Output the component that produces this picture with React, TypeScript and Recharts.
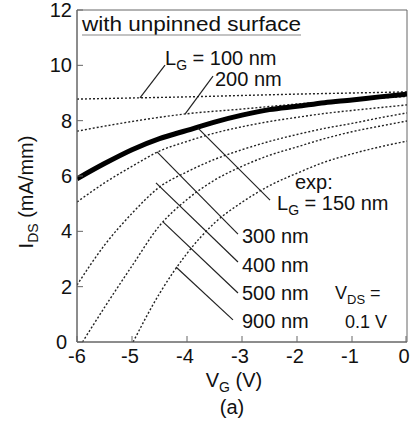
import { LineChart, Line, XAxis, YAxis, ReferenceLine, ReferenceArea } from 'recharts'

// ==================== Data ====================

const X_TICKS = [-6, -5, -4, -3, -2, -1, 0]
const Y_TICKS = [0, 2, 4, 6, 8, 10, 12]

// simulated curves, V_G (V) vs I_DS (mA/mm)
const LG100_V = [-6, -5, -4, -3, -2, -1, 0]
const LG100_I = [8.78, 8.82, 8.86, 8.91, 8.96, 9.0, 9.04]

const LG200_V = [-6, -5, -4, -3, -2, -1, 0]
const LG200_I = [7.62, 7.97, 8.25, 8.42, 8.6, 8.75, 8.88]

const LG300_V = [-6, -5.5, -5, -4.5, -4, -3.5, -3, -2.5, -2, -1.5, -1, -0.5, 0]
const LG300_I = [5.06, 5.75, 6.35, 6.9, 7.25, 7.55, 7.78, 7.97, 8.12, 8.26, 8.37, 8.47, 8.57]

const LG400_V = [-6, -5.5, -5, -4.5, -4, -3.5, -3, -2.5, -2, -1.5, -1, -0.5, 0]
const LG400_I = [2.06, 3.5, 4.65, 5.6, 6.15, 6.6, 6.95, 7.25, 7.5, 7.72, 7.9, 8.1, 8.28]

const LG500_V = [-5.9, -5.5, -5, -4.5, -4, -3.5, -3, -2.5, -2, -1.5, -1, -0.5, 0]
const LG500_I = [0, 1.25, 2.75, 4.2, 5.15, 5.85, 6.35, 6.75, 7.05, 7.35, 7.6, 7.8, 7.99]

const LG900_V = [-4.98, -4.5, -4, -3.5, -3, -2.5, -2, -1.5, -1, -0.5, 0]
const LG900_I = [0, 1.75, 3.2, 4.3, 5.05, 5.65, 6.1, 6.5, 6.8, 7.05, 7.26]

// measured, L_G = 150 nm
const EXP_V = [-6, -5.5, -5, -4.5, -4, -3.5, -3, -2.5, -2, -1.5, -1, -0.5, 0]
const EXP_I = [5.9, 6.45, 6.95, 7.35, 7.65, 7.95, 8.2, 8.4, 8.52, 8.65, 8.75, 8.86, 8.96]

// leader lines from labels to curves: [V1, I1, V2, I2]
const LEADERS = [
  [-4.4, 10.01, -4.855, 8.82],
  [-3.527, 9.61, -4.036, 8.24],
  [-3.8, 7.73, -2.49, 5.13],
  [-4.545, 6.87, -3.073, 3.9],
  [-4.564, 5.75, -3.073, 2.89],
  [-4.436, 4.34, -3.073, 1.77],
  [-4.2, 2.71, -3.164, 0.8],
]

const SIM = [
  { key: 'lg100', v: LG100_V, i: LG100_I },
  { key: 'lg200', v: LG200_V, i: LG200_I },
  { key: 'lg300', v: LG300_V, i: LG300_I },
  { key: 'lg400', v: LG400_V, i: LG400_I },
  { key: 'lg500', v: LG500_V, i: LG500_I },
  { key: 'lg900', v: LG900_V, i: LG900_I },
]

const toPoints = (v: number[], i: number[]) => v.map((x, k) => ({ v: x, i: i[k] }))

const FONT = '"Liberation Sans", Arial, Helvetica, sans-serif'
const AXIS = '#666'

// ==================== Ticks (marks point inward) ====================

function YTick({ y, payload }: any) {
  // the "0" sits a little further left so it clears the "-6" below it
  const tx = payload.value === 0 ? 67 : 72
  return (
    <g>
      <text x={tx} y={y + 7} textAnchor="end" fontSize={20} fontFamily={FONT} fill="#111">
        {payload.value}
      </text>
      <line x1={77} x2={83} y1={y} y2={y} stroke={AXIS} />
    </g>
  )
}

function XTick({ x, payload }: any) {
  const dx = payload.value === -6 ? 0 : -2
  return (
    <g>
      <text x={x + dx} y={363} textAnchor="middle" fontSize={20} fontFamily={FONT} fill="#111">
        {payload.value}
      </text>
      <line x1={x} x2={x} y1={342} y2={336} stroke={AXIS} />
    </g>
  )
}

// ==================== Component ====================

export default function App() {
  return (
    <div style={{ position: 'absolute', left: 0, top: 0, width: 410, height: 423, background: '#fff' }}>
      <LineChart width={410} height={423} margin={{ top: 10, right: 3, bottom: 51, left: 0 }}>
        <XAxis
          type="number"
          dataKey="v"
          domain={[-6, 0]}
          ticks={X_TICKS}
          allowDataOverflow
          height={30}
          axisLine={{ stroke: AXIS }}
          tickLine={false}
          tick={<XTick />}
        />
        <YAxis
          type="number"
          dataKey="i"
          domain={[0, 12]}
          ticks={Y_TICKS}
          allowDataOverflow
          width={77}
          axisLine={{ stroke: AXIS }}
          tickLine={false}
          tick={<YTick />}
        />
        <ReferenceArea x1={-6} x2={0} y1={0} y2={12} fill="none" stroke={AXIS} strokeWidth={1} />
        {SIM.map(s => (
          <Line
            key={s.key}
            data={toPoints(s.v, s.i)}
            dataKey="i"
            type="monotone"
            stroke="#222"
            strokeWidth={1.4}
            strokeDasharray="2 2"
            dot={false}
            isAnimationActive={false}
          />
        ))}
        <Line
          data={toPoints(EXP_V, EXP_I)}
          dataKey="i"
          type="monotone"
          stroke="#000"
          strokeWidth={5}
          dot={false}
          isAnimationActive={false}
        />
        {LEADERS.map((l, k) => (
          <ReferenceLine
            key={k}
            segment={[{ x: l[0], y: l[1] }, { x: l[2], y: l[3] }]}
            stroke="#222"
            strokeWidth={1.2}
          />
        ))}
      </LineChart>

      {/* Annotations */}
      <svg
        width={410}
        height={423}
        style={{ position: 'absolute', left: 0, top: 0, pointerEvents: 'none' }}
        fontFamily={FONT}
        fill="#111"
      >
        <text x={82} y={31} fontSize={20} textLength={219} lengthAdjust="spacingAndGlyphs">with unpinned surface</text>
        <line x1={82} x2={301} y1={35} y2={35} stroke="#888" strokeWidth={1.2} />

        <text x={165} y={65} fontSize={20}>
          L<tspan fontSize={14} dy={5}>G</tspan><tspan dy={-5}> = 100 nm</tspan>
        </text>
        <text x={215} y={86} fontSize={20}>200 nm</text>

        <text x={295} y={189} fontSize={20}>exp:</text>
        <text x={277} y={210} fontSize={20}>
          L<tspan fontSize={14} dy={5}>G</tspan><tspan dy={-5}> = 150 nm</tspan>
        </text>

        <text x={242} y={243} fontSize={20}>300 nm</text>
        <text x={242} y={272} fontSize={20}>400 nm</text>
        <text x={242} y={300} fontSize={20}>500 nm</text>
        <text x={242} y={328} fontSize={20}>900 nm</text>

        <text x={335} y={299} fontSize={18}>
          V<tspan fontSize={13} dy={5}>DS</tspan><tspan dy={-5}> =</tspan>
        </text>
        <text x={345} y={328} fontSize={18}>0.1 V</text>

        <text x={33} y={192} fontSize={20} textAnchor="middle" transform="rotate(-90 33 192)">
          I<tspan fontSize={14} dy={5}>DS</tspan><tspan dy={-5}> (mA/mm)</tspan>
        </text>

        <text x={234} y={387} fontSize={20} textAnchor="middle">
          V<tspan fontSize={14} dy={5}>G</tspan><tspan dy={-5}> (V)</tspan>
        </text>
        <text x={232} y={414} fontSize={20} textAnchor="middle">(a)</text>
      </svg>
    </div>
  )
}
